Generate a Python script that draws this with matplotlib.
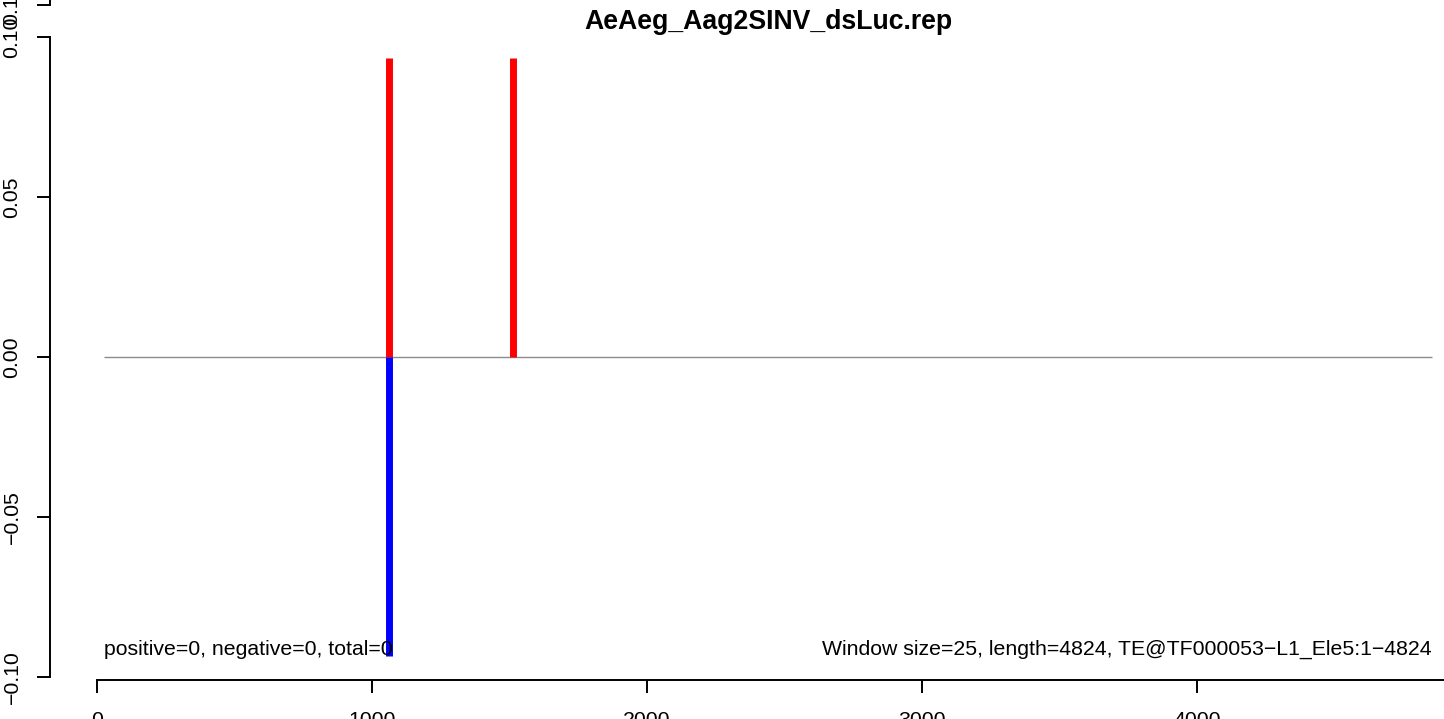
import matplotlib
matplotlib.use("Agg")
import matplotlib.pyplot as plt

plt.rcParams['font.family'] = ['Liberation Sans', 'DejaVu Sans']

title = "AeAeg_Aag2SINV_dsLuc.rep"
pos_x = [1063, 1514]
pos_y = [0.0934, 0.0934]
neg_x = [1063]
neg_y = [-0.0934]
baseline_range = [24, 4855]
yticks = [-0.10, -0.05, 0.00, 0.05, 0.10, 0.11]
yticklabels = ["\u22120.10", "\u22120.05", "0.00", "0.05", "0.10", "0.11"]
xticks = [0, 1000, 2000, 3000, 4000]
xticklabels = ["0", "1000", "2000", "3000", "4000"]
left_text = "positive=0, negative=0, total=0"
right_text = "Window size=25, length=4824, TE@TF000053\u2212L1_Ele5:1\u22124824"

W, H = 1444, 719
fig = plt.figure(figsize=(W / 100, H / 100), dpi=100)
ax = fig.add_axes([0, 0, 1, 1])

px_per_x = 0.275
x0_px = 97
px_per_y = 3200
y0_px = 357
ax.set_xlim(-x0_px / px_per_x, (W - x0_px) / px_per_x)
ax.set_ylim(-(H - y0_px) / px_per_y, y0_px / px_per_y)

# baseline
ax.hlines(0, baseline_range[0], baseline_range[1], color="#8c8c8c", lw=1.0, zorder=1)
# bars
ax.vlines(pos_x, 0, pos_y, color="#ff0000", lw=5.0, capstyle="butt", zorder=2)
ax.vlines(neg_x, 0, neg_y, color="#0000ff", lw=5.0, capstyle="butt", zorder=2)

# spines
for s in ["top", "right"]:
    ax.spines[s].set_visible(False)
left_x = (50 - x0_px) / px_per_x
bottom_y = (y0_px - 680) / px_per_y
ax.spines["left"].set_position(("data", left_x))
ax.spines["left"].set_bounds(-0.10, 0.10)
ax.spines["bottom"].set_position(("data", bottom_y))
ax.spines["bottom"].set_bounds(0, (W - x0_px) / px_per_x)
for s in ["left", "bottom"]:
    ax.spines[s].set_linewidth(1.4)
# extra axis piece above the 0.11 tick
ax.plot([left_x, left_x], [0.11, y0_px / px_per_y], color="black", lw=1.4, clip_on=False)

ax.set_yticks(yticks)
ax.set_yticklabels(yticklabels, rotation=90, va="center", ha="right")
ax.set_xticks(xticks)
ax.set_xticklabels(xticklabels)
ax.tick_params(axis="y", length=9.5, width=1.4, pad=11, labelsize=15.3)
ax.tick_params(axis="x", length=9, width=1.4, pad=13, labelsize=15.3)

ax.text(24, -0.0913, left_text, ha="left", va="center", fontsize=15.3)
ax.text(4855, -0.0913, right_text, ha="right", va="center", fontsize=15.3)
fig.text(768 / W, 1 - 22 / H, title, ha="center", va="center", fontsize=19.2, fontweight="bold")

fig.savefig("out.png", dpi=100)
